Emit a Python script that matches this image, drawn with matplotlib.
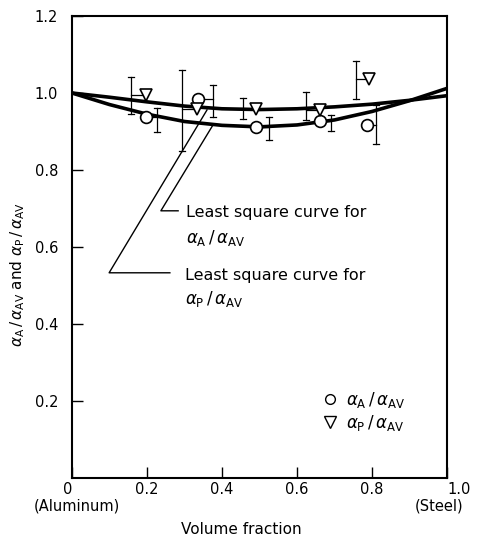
import matplotlib
matplotlib.use("Agg")
import matplotlib.pyplot as plt
from matplotlib.lines import Line2D

# least square curves
curve_x = [0.0, 0.1, 0.2, 0.3, 0.4, 0.5, 0.6, 0.7, 0.8, 0.9, 1.0]
curve_a = [1.000, 0.970, 0.945, 0.926, 0.916, 0.912, 0.917, 0.930, 0.952, 0.980, 1.012]
curve_p = [1.000, 0.989, 0.977, 0.966, 0.959, 0.957, 0.959, 0.964, 0.971, 0.981, 0.993]

# alpha_A / alpha_AV measurements (circles), error bars drawn beside the marker
x_a = [0.198, 0.335, 0.490, 0.660, 0.786]
y_a = [0.937, 0.985, 0.912, 0.926, 0.917]
bar_x_a = [0.227, 0.376, 0.524, 0.690, 0.811]
lo_a = [0.898, 0.937, 0.878, 0.901, 0.867]
hi_a = [0.961, 1.020, 0.937, 0.943, 0.969]

# alpha_P / alpha_AV measurements (triangles)
x_p = [0.197, 0.333, 0.490, 0.660, 0.793]
y_p = [0.994, 0.959, 0.958, 0.956, 1.036]
bar_x_p = [0.158, 0.293, 0.455, 0.624, 0.756]
lo_p = [0.945, 0.850, 0.932, 0.930, 0.984]
hi_p = [1.042, 1.060, 0.988, 1.003, 1.083]

x_ticks = [0, 0.2, 0.4, 0.6, 0.8, 1.0]
x_labels = ["0", "0.2", "0.4", "0.6", "0.8", "1.0"]
y_ticks = [0.2, 0.4, 0.6, 0.8, 1.0, 1.2]
y_labels = ["0.2", "0.4", "0.6", "0.8", "1.0", "1.2"]

lab_a = r"$\alpha_{\rm A}\,/\,\alpha_{\rm AV}$"
lab_p = r"$\alpha_{\rm P}\,/\,\alpha_{\rm AV}$"

plt.rcParams["font.family"] = ["DejaVu Sans"]
plt.rcParams["mathtext.fontset"] = "dejavusans"

fig = plt.figure(figsize=(4.8, 5.4), dpi=100)
ax = fig.add_axes([72 / 480, 62 / 540, 375 / 480, 462 / 540])

ax.plot(curve_x, curve_a, color="black", lw=2.6, solid_capstyle="butt", zorder=3)
ax.plot(curve_x, curve_p, color="black", lw=2.6, solid_capstyle="butt", zorder=3)

for xs, ys, bxs, los, his, mk in [(x_a, y_a, bar_x_a, lo_a, hi_a, "o"),
                                  (x_p, y_p, bar_x_p, lo_p, hi_p, "v")]:
    for x, y, bx, lo, hi in zip(xs, ys, bxs, los, his):
        ax.plot([x, bx], [y, y], color="black", lw=0.9, zorder=4)
        ax.plot([bx, bx], [lo, hi], color="black", lw=0.9, zorder=4)
        ax.plot([bx - 0.008, bx + 0.008], [lo, lo], color="black", lw=0.9, zorder=4)
        ax.plot([bx - 0.008, bx + 0.008], [hi, hi], color="black", lw=0.9, zorder=4)
    ax.plot(xs, ys, linestyle="none", marker=mk, ms=8.5, mfc="white",
            mec="black", mew=1.2, zorder=5)

# leader lines to the curves
ax.plot([0.376, 0.237, 0.283], [0.917, 0.694, 0.694], color="black", lw=1.0, zorder=2)
ax.plot([0.360, 0.099, 0.261], [0.956, 0.533, 0.533], color="black", lw=1.0, zorder=2)
ax.text(0.304, 0.690, "Least square curve for", fontsize=11.5, va="center", ha="left")
ax.text(0.304, 0.624, lab_a, fontsize=12, va="center", ha="left")
ax.text(0.301, 0.527, "Least square curve for", fontsize=11.5, va="center", ha="left")
ax.text(0.301, 0.466, lab_p, fontsize=12, va="center", ha="left")

handles = [Line2D([], [], linestyle="none", marker="o", ms=7, mfc="white", mec="black", mew=1.0),
           Line2D([], [], linestyle="none", marker="v", ms=8, mfc="white", mec="black", mew=1.0)]
ax.legend(handles, [lab_a, lab_p], loc="upper left", bbox_to_anchor=(0.665, 0.19),
          frameon=False, fontsize=12, handlelength=1.0, handletextpad=0.5,
          labelspacing=0.15, borderpad=0, borderaxespad=0)

ax.set_xlim(0, 1.0)
ax.set_ylim(0, 1.2)
ax.set_xticks(x_ticks)
ax.set_xticklabels(x_labels)
ax.set_yticks(y_ticks)
ax.set_yticklabels(y_labels)
ax.tick_params(direction="in", length=8, width=1.0, labelsize=10.5)
ax.tick_params(axis="x", pad=3)
ax.tick_params(axis="y", pad=10)
xt = ax.get_xticklabels()
xt[0].set_ha("right")
xt[-1].set_ha("left")
for sp in ax.spines.values():
    sp.set_linewidth(1.5)

fig.text(77 / 480, 1 - 506 / 540, "(Aluminum)", fontsize=10.5, ha="center", va="center")
fig.text(439 / 480, 1 - 506 / 540, "(Steel)", fontsize=10.5, ha="center", va="center")
fig.text(241 / 480, 1 - 529 / 540, "Volume fraction", fontsize=11, ha="center", va="center")
fig.text(18 / 480, 1 - 275 / 540, lab_a + " and " + lab_p, fontsize=11,
         rotation=90, ha="center", va="center")

fig.savefig("out.png", dpi=100)
